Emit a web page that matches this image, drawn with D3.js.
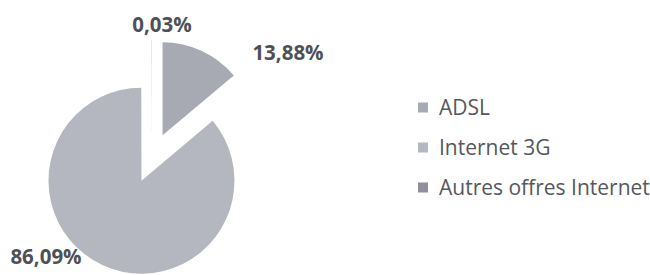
<!DOCTYPE html>
<html><head><meta charset="utf-8">
<script src="https://cdn.jsdelivr.net/npm/d3@7"></script>
<style>body{margin:0;background:#fff}svg{display:block}</style>
</head><body>
<svg id="c" width="650" height="275"></svg>
<script>
const categories = ["ADSL", "Internet 3G", "Autres offres Internet"];
const values = [13.88, 86.09, 0.03];
const labels = ["13,88%", "86,09%", "0,03%"];
const colors = ["#a7a9b3", "#b5b7c0", "#8f909c"];

const svg = d3.select("#c");
const cx = 152, cy = 158, r = 93, explode = 25;
const pie = d3.pie().sort(null).value(d => d)(values);
const arc = d3.arc().innerRadius(0).outerRadius(r);
const g = svg.append("g").attr("transform", `translate(${cx},${cy})`);
g.selectAll("path").data(pie).join("path")
  .attr("d", arc)
  .attr("fill", (d, i) => colors[i])
  .attr("transform", d => {
    const a = (d.startAngle + d.endAngle) / 2;
    return `translate(${explode * Math.sin(a)},${-explode * Math.cos(a)})`;
  });

const labelPos = [[288, 52], [46, 256], [162, 24]];
svg.selectAll("text.lbl").data(labels).join("text")
  .attr("class", "lbl")
  .attr("x", (d, i) => labelPos[i][0])
  .attr("y", (d, i) => labelPos[i][1])
  .attr("text-anchor", "middle")
  .attr("dominant-baseline", "central")
  .attr("font-family", "Open Sans")
  .attr("font-weight", "bold")
  .attr("font-size", 20.5)
  .attr("fill", "#4e5058")
  .text(d => d);

const leg = svg.append("g").attr("transform", "translate(418,107)");
const items = leg.selectAll("g").data(categories).join("g")
  .attr("transform", (d, i) => `translate(0,${i * 40})`);
items.append("rect").attr("x", 0).attr("y", -4.5).attr("width", 10).attr("height", 10)
  .attr("fill", (d, i) => colors[i]);
items.append("text").attr("x", 21).attr("y", 0)
  .attr("dominant-baseline", "central")
  .attr("font-family", "Open Sans")
  .attr("font-size", 21)
  .attr("fill", "#55575e")
  .text(d => d);
</script>
</body></html>
